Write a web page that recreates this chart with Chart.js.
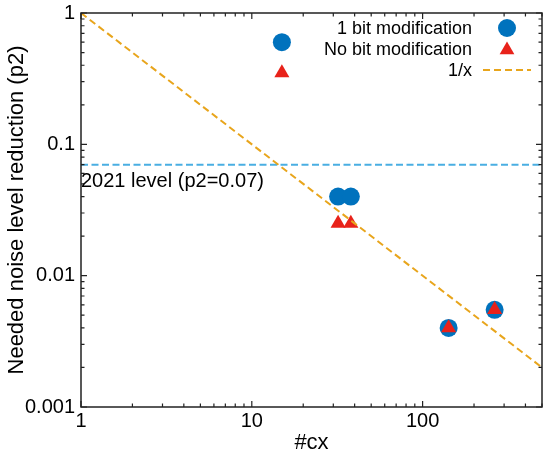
<!DOCTYPE html>
<html><head><meta charset="utf-8">
<style>html,body{margin:0;padding:0;background:#fff;overflow:hidden}</style>
<script src="https://cdn.jsdelivr.net/npm/chart.js@4.4.0/dist/chart.umd.min.js"></script>
</head><body>
<canvas id="c" width="546" height="460" style="display:block;width:546px;height:460px"></canvas>
<script>
// ---- data ----
const oneBitX = [15, 32, 38, 142, 264];
const oneBitY = [0.6, 0.04, 0.04, 0.004, 0.0055];
const noBitX = [15, 32, 38, 142, 264];
const noBitY = [0.35, 0.025, 0.025, 0.004, 0.0055];
const refLineX = [1, 500];
const refLineY = [1, 0.002];
const levelX = [1, 500];
const levelY = [0.07, 0.07];
const xTickValues = [1, 10, 100];
const xTickLabels = ['1', '10', '100'];
const yTickValues = [1, 0.1, 0.01, 0.001];
const yTickLabels = ['1', '0.1', '0.01', '0.001'];
const seriesLabels = ['1 bit modification', 'No bit modification', '1/x'];
const levelLabel = '2021 level (p2=0.07)';
const xTitle = '#cx';
const yTitle = 'Needed noise level reduction (p2)';
const xRange = [1, 500];
const yRange = [0.001, 1];

const FONT = "'Liberation Sans', Arial, sans-serif";
const BLUE = '#0072BD';
const RED = '#E8221A';
const ORANGE = '#E8A51C';
const LIGHTBLUE = '#4AAEE2';

function pts(xs, ys) { return xs.map((x, i) => ({ x: x, y: ys[i] })); }
function logTicks(min, max) {
  const out = [];
  const e0 = Math.floor(Math.log10(min) + 1e-9), e1 = Math.ceil(Math.log10(max) - 1e-9);
  for (let e = e0; e <= e1; e++) {
    const d = Math.pow(10, e);
    for (let m = 1; m <= 9; m++) {
      const v = m * d;
      if (v >= min * (1 - 1e-9) && v <= max * (1 + 1e-9)) out.push(v);
    }
  }
  return out;
}
function labelFor(v, vals, labs) {
  for (let i = 0; i < vals.length; i++) {
    if (Math.abs(Math.log10(v) - Math.log10(vals[i])) < 1e-6) return labs[i];
  }
  return '';
}
function isMajor(v) { const l = Math.log10(v); return Math.abs(l - Math.round(l)) < 1e-6; }

const framePlugin = {
  id: 'frame',
  afterDraw(chart) {
    const ctx = chart.ctx, a = chart.chartArea;
    const xs = chart.scales.x, ys = chart.scales.y;
    ctx.save();
    ctx.strokeStyle = '#222';
    ctx.lineWidth = 1.5;
    ctx.strokeRect(a.left, a.top, a.right - a.left, a.bottom - a.top);
    ctx.lineWidth = 1.2;
    ctx.beginPath();
    xs.ticks.forEach(t => {
      const p = xs.getPixelForValue(t.value);
      const L = isMajor(t.value) ? 6 : 3.5;
      ctx.moveTo(p, a.bottom); ctx.lineTo(p, a.bottom - L);
      ctx.moveTo(p, a.top); ctx.lineTo(p, a.top + L);
    });
    ys.ticks.forEach(t => {
      const p = ys.getPixelForValue(t.value);
      const L = isMajor(t.value) ? 6 : 3.5;
      ctx.moveTo(a.left, p); ctx.lineTo(a.left + L, p);
      ctx.moveTo(a.right, p); ctx.lineTo(a.right - L, p);
    });
    ctx.stroke();

    // annotation text
    ctx.fillStyle = '#000';
    ctx.font = '20px ' + FONT;
    ctx.textAlign = 'left';
    ctx.textBaseline = 'alphabetic';
    ctx.fillText(levelLabel, a.left, ys.getPixelForValue(levelY[0]) + 22);

    // legend
    ctx.font = '18px ' + FONT;
    ctx.textAlign = 'right';
    ctx.textBaseline = 'middle';
    const tx = a.right - 70, sx = a.right - 35;
    const rows = [a.top + 16, a.top + 37, a.top + 58];
    ctx.fillText(seriesLabels[0], tx, rows[0]);
    ctx.fillText(seriesLabels[1], tx, rows[1]);
    ctx.fillText(seriesLabels[2], tx, rows[2]);
    ctx.fillStyle = BLUE;
    ctx.beginPath(); ctx.arc(sx, rows[0] - 1, 9, 0, Math.PI * 2); ctx.fill();
    ctx.fillStyle = RED;
    const r = 8.5, cy = rows[1];
    ctx.beginPath();
    ctx.moveTo(sx, cy - r);
    ctx.lineTo(sx + r * Math.sqrt(3) / 2, cy + r / 2);
    ctx.lineTo(sx - r * Math.sqrt(3) / 2, cy + r / 2);
    ctx.closePath(); ctx.fill();
    ctx.strokeStyle = ORANGE; ctx.lineWidth = 2; ctx.setLineDash([7, 4]);
    ctx.beginPath(); ctx.moveTo(sx - 24, rows[2] - 1); ctx.lineTo(sx + 24, rows[2] - 1); ctx.stroke();
    ctx.restore();
  }
};

new Chart(document.getElementById('c'), {
  type: 'scatter',
  data: {
    datasets: [
      { type: 'line', label: seriesLabels[2], data: pts(refLineX, refLineY), borderColor: ORANGE, borderWidth: 2,
        borderDash: [7, 4], pointRadius: 0, fill: false, order: 0 },
      { type: 'line', label: 'level', data: pts(levelX, levelY), borderColor: LIGHTBLUE, borderWidth: 2,
        borderDash: [7, 3.5], pointRadius: 0, fill: false, order: 3 },
      { label: seriesLabels[1], data: pts(noBitX, noBitY), pointStyle: 'triangle', pointRadius: 8.7,
        backgroundColor: RED, borderColor: RED, pointBorderWidth: 0, borderWidth: 0, order: 1 },
      { label: seriesLabels[0], data: pts(oneBitX, oneBitY), pointStyle: 'circle', pointRadius: 9,
        backgroundColor: BLUE, borderColor: BLUE, pointBorderWidth: 0, borderWidth: 0, order: 2 }
    ]
  },
  options: {
    responsive: false, animation: false, devicePixelRatio: 1,
    layout: { autoPadding: false, padding: { top: 13, right: 4, left: 0, bottom: 0 } },
    plugins: { legend: { display: false }, tooltip: { enabled: false } },
    scales: {
      x: {
        type: 'logarithmic', position: 'bottom', min: xRange[0], max: xRange[1],
        afterBuildTicks: s => { s.ticks = logTicks(xRange[0], xRange[1]).map(v => ({ value: v, major: isMajor(v) })); },
        afterFit: s => { s.height = 53; s.paddingLeft = 0; s.paddingRight = 0; },
        grid: { display: false, drawTicks: false, drawOnChartArea: false },
        border: { display: false },
        ticks: { autoSkip: false, maxRotation: 0, padding: 2, color: '#000', font: { family: FONT, size: 20 },
          callback: v => labelFor(v, xTickValues, xTickLabels) },
        title: { display: true, text: xTitle, color: '#000', font: { family: FONT, size: 22 }, padding: { top: 0, bottom: 4 } }
      },
      y: {
        type: 'logarithmic', position: 'left', min: yRange[0], max: yRange[1],
        afterBuildTicks: s => { s.ticks = logTicks(yRange[0], yRange[1]).map(v => ({ value: v, major: isMajor(v) })); },
        afterFit: s => { s.width = 81; s.paddingTop = 0; s.paddingBottom = 0; },
        grid: { display: false, drawTicks: false, drawOnChartArea: false },
        border: { display: false },
        ticks: { autoSkip: false, padding: 6, color: '#000', font: { family: FONT, size: 20 },
          callback: v => labelFor(v, yTickValues, yTickLabels) },
        title: { display: true, text: yTitle, color: '#000', font: { family: FONT, size: 22 }, padding: { top: 4, bottom: 0 } }
      }
    }
  },
  plugins: [framePlugin]
});
</script>
</body></html>
